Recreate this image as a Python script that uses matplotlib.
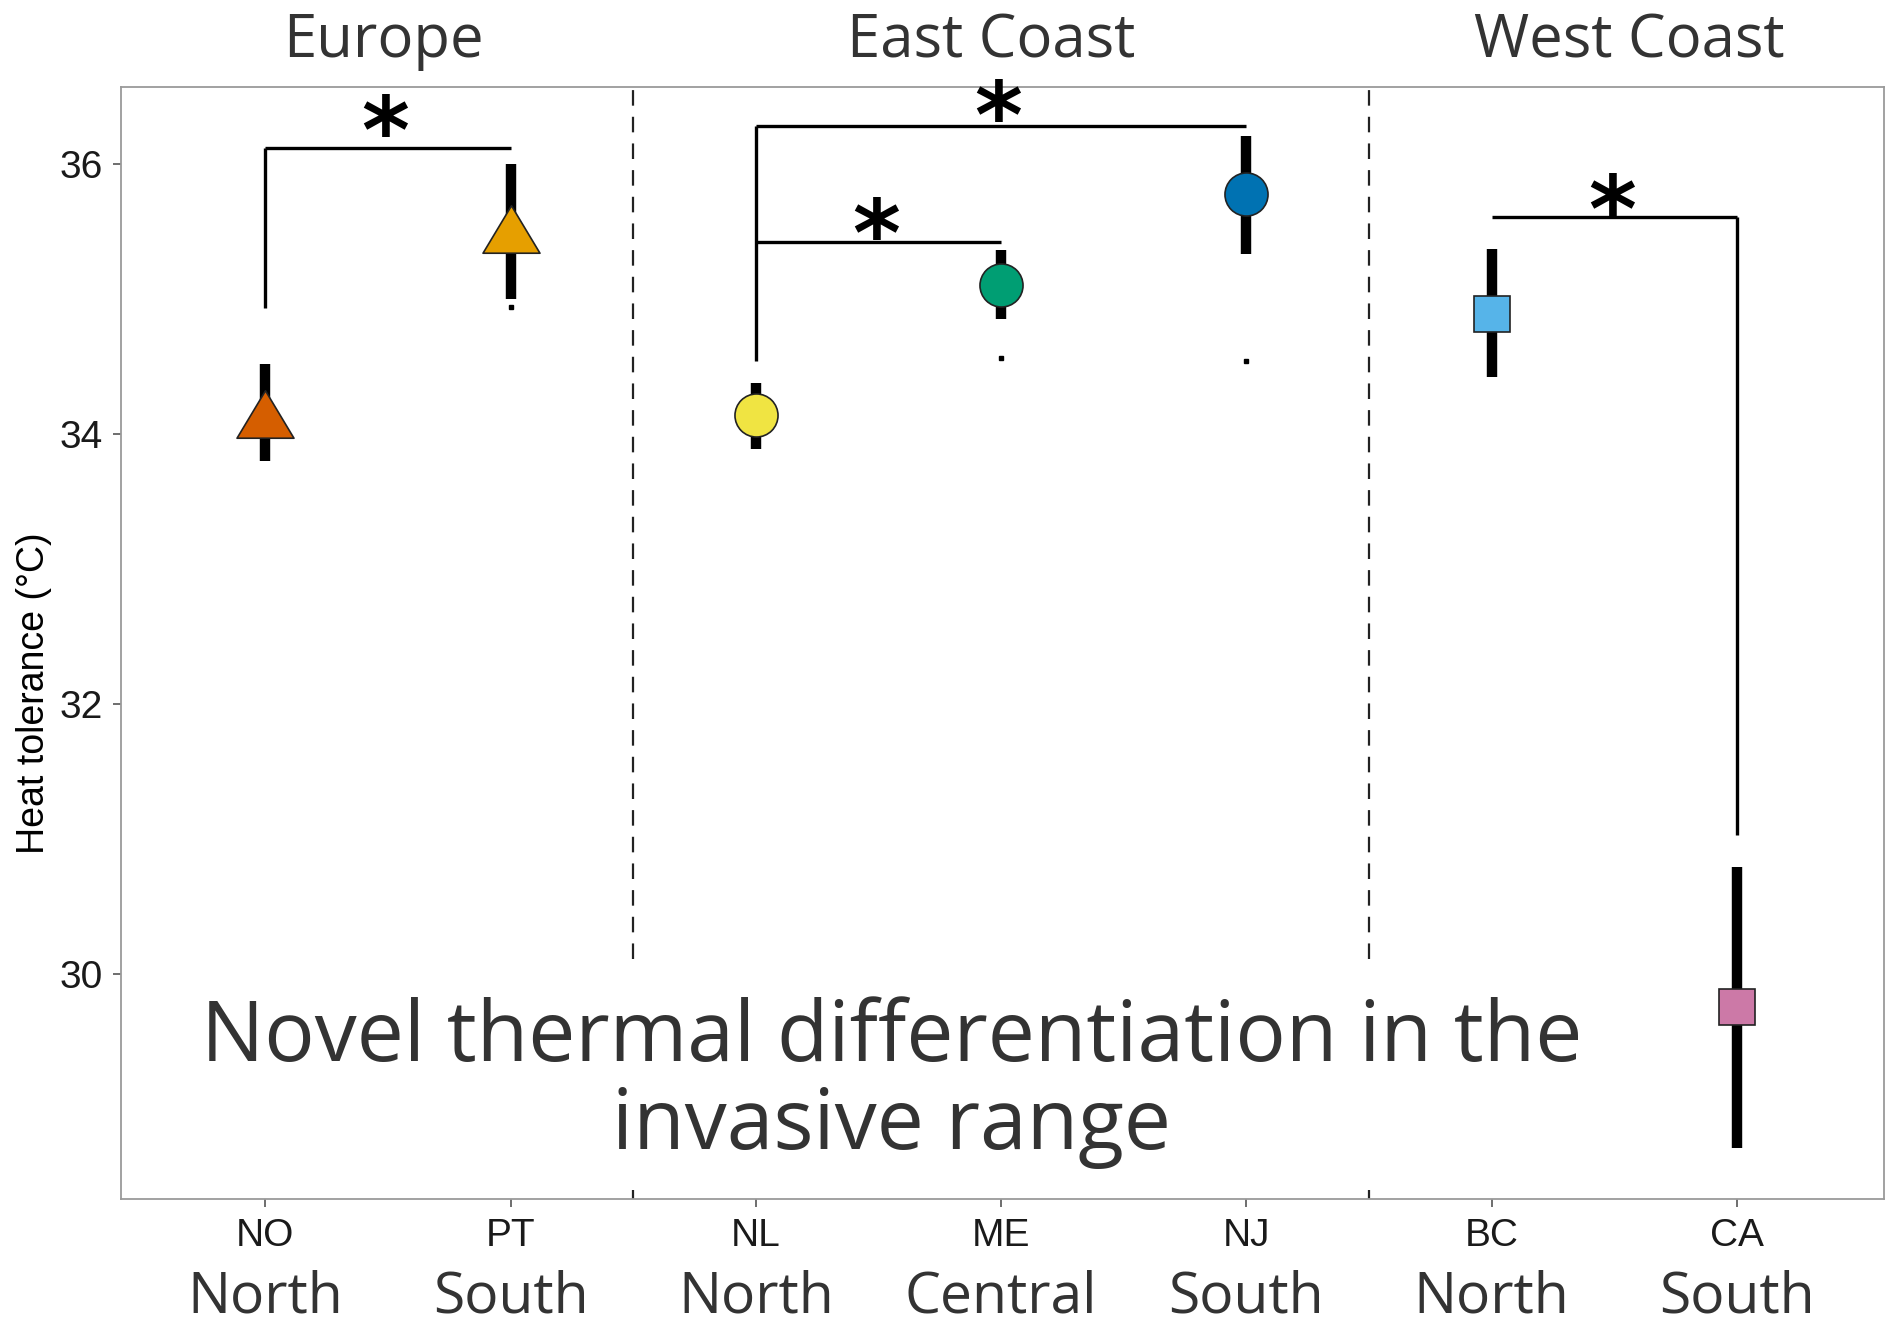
import matplotlib.pyplot as plt
import matplotlib.transforms as mtransforms
from matplotlib import font_manager
from matplotlib.patches import Rectangle
from matplotlib.path import Path

# data
sites = ['NO', 'PT', 'NL', 'ME', 'NJ', 'BC', 'CA']
positions = ['North', 'South', 'North', 'Central', 'South', 'North', 'South']
means = [34.15, 35.52, 34.14, 35.10, 35.78, 34.89, 29.75]
lower = [33.80, 35.00, 33.89, 34.85, 35.33, 34.42, 28.71]
upper = [34.52, 36.00, 34.38, 35.36, 36.21, 35.37, 30.79]
colors = ['#D55E00', '#E69F00', '#F0E442', '#009E73', '#0072B2', '#56B4E9', '#CC79A7']
shapes = ['tri', 'tri', 'o', 'o', 'o', 's', 's']

regions = ['Europe', 'East Coast', 'West Coast']
region_x = [1.48, 3.96, 6.56]
dividers = [2.5, 5.5]

# brackets: (from site, to site, bar height, leg end, leg site, star height)
brackets = [
    (1, 2, 36.12, 34.93, 1, 36.35),
    (3, 5, 36.28, 34.54, 3, 36.46),
    (3, 4, 35.42, 35.42, 3, 35.58),
    (6, 7, 35.61, 31.03, 7, 35.76),
]
# stray dots under the bracket ends
dot_x = [2, 4, 5]
dot_y = [34.94, 34.56, 34.54]

title_font = 'Open Sans'
tick_font = 'Liberation Sans'
text_grey = '#333333'

# narrow face for the y label if it is there
names = {f.name for f in font_manager.fontManager.ttflist}
if 'Liberation Sans Narrow' in names:
    ylab_font, ylab_size = 'Liberation Sans Narrow', 31
else:
    ylab_font, ylab_size = 'Liberation Sans', 27

tri = Path([(-0.6, -0.5), (0.6, -0.5), (0.0, 0.5), (-0.6, -0.5)],
           [Path.MOVETO, Path.LINETO, Path.LINETO, Path.CLOSEPOLY])

fig = plt.figure(figsize=(18.9, 13.26), dpi=100)
ax = fig.add_axes([0.0638, 0.0958, 0.9330, 0.8386])

x = list(range(1, len(sites) + 1))

# dashed region dividers
for d in dividers:
    ax.axvline(d, color='#222222', lw=1.6, ls=(0, (7, 5)), zorder=1)

# error bars + points
for xi, m, lo, hi, c, s in zip(x, means, lower, upper, colors, shapes):
    ax.plot([xi, xi], [lo, hi], color='black', lw=7.5, solid_capstyle='butt', zorder=3)
    if s == 'tri':
        ax.plot(xi, m, marker=tri, ms=41, mfc=c, mec='#222222', mew=1.2, zorder=4)
    elif s == 'o':
        ax.plot(xi, m, marker='o', ms=31, mfc=c, mec='#222222', mew=1.2, zorder=4)
    else:
        ax.plot(xi, m, marker='s', ms=26, mfc=c, mec='#222222', mew=1.2, zorder=4)

# significance brackets
for a, b, top, leg, leg_x, star_y in brackets:
    ax.plot([a, b], [top, top], color='black', lw=2.4, zorder=3, solid_capstyle='butt')
    ax.plot([leg_x, leg_x], [leg, top], color='black', lw=2.4, zorder=3, solid_capstyle='butt')
    ax.text((a + b) / 2 - 0.01, star_y - 0.34, '*', fontsize=66, fontweight='bold',
            ha='center', va='baseline', color='black', zorder=5)

ax.plot(dot_x, dot_y, ls='none', marker='s', ms=2.5, color='black', zorder=3)

# white box behind the overlay caption
ax.add_patch(Rectangle((0.5, 28.4), 5.85, 1.68, facecolor='white', edgecolor='none', zorder=2))
ax.text(3.555, 29.19, 'Novel thermal differentiation in the\ninvasive range',
        fontsize=60.5, family=title_font, color=text_grey, ha='center', va='center',
        linespacing=1.06, zorder=6)

ax.set_xlim(0.41, 7.6)
ax.set_ylim(28.33, 36.57)
ax.set_xticks(x)
ax.set_xticklabels(sites)
ax.set_yticks([30, 32, 34, 36])
for lab in ax.get_xticklabels() + ax.get_yticklabels():
    lab.set_family(tick_font)
ax.tick_params(axis='both', labelsize=28, length=6, width=1.2, color='#555555',
               labelcolor='#1a1a1a')
ax.tick_params(axis='x', pad=8)
ax.tick_params(axis='y', pad=7)
for sp in ax.spines.values():
    sp.set_color('#9a9a9a')
    sp.set_linewidth(1.3)

fig.text(34 / 1890, 1 - 693 / 1326, 'Heat tolerance (\u00b0C)', rotation=90,
         ha='center', va='center', fontsize=ylab_size, family=ylab_font, color='black')

trans = mtransforms.blended_transform_factory(ax.transData, ax.transAxes)
for xi, p in zip(x, positions):
    ax.text(xi, -0.089, p, transform=trans, ha='center', va='center',
            fontsize=41, family=title_font, color=text_grey)
for rx, r in zip(region_x, regions):
    ax.text(rx, 1.041, r, transform=trans, ha='center', va='center',
            fontsize=43, family=title_font, color=text_grey)

fig.savefig('out.png', dpi=100, facecolor='white')
